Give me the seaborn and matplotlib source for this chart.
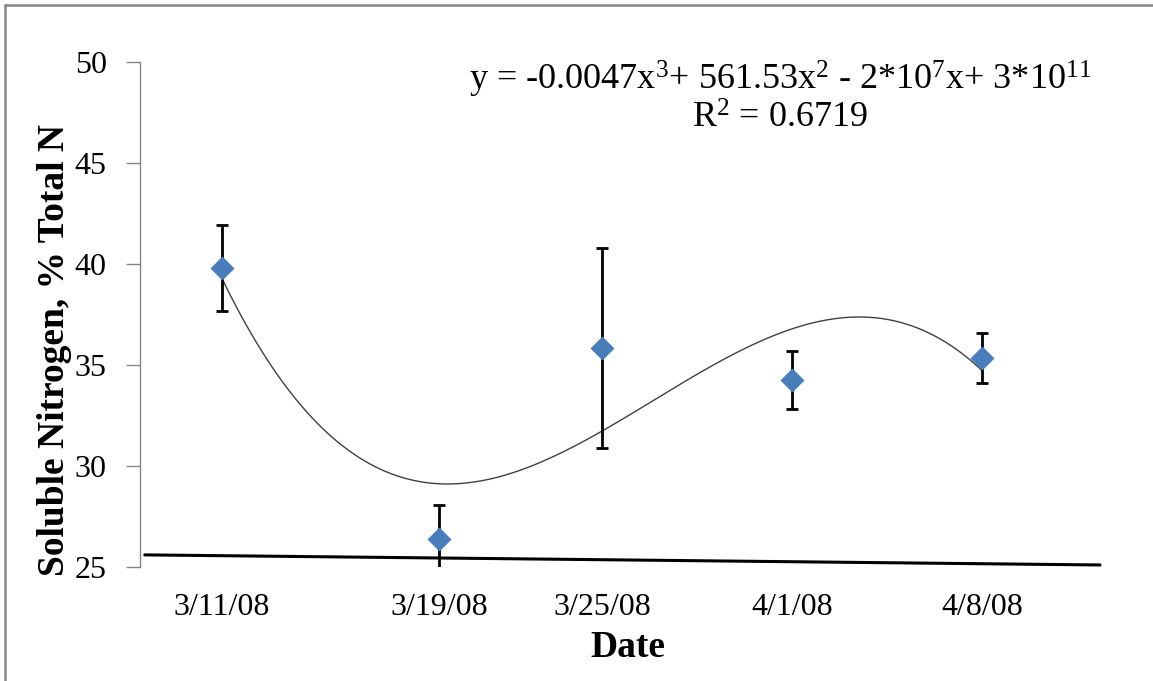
import numpy as np
import pandas as pd
import matplotlib
matplotlib.use('Agg')
import matplotlib.pyplot as plt
import matplotlib.dates as mdates
from matplotlib.lines import Line2D
import seaborn as sns

# ---------------------------------------------
# Data
# ---------------------------------------------
dates = ['2008-03-11', '2008-03-19', '2008-03-25', '2008-04-01', '2008-04-08']
date_labels = ['3/11/08', '3/19/08', '3/25/08', '4/1/08', '4/8/08']
soluble_n = [39.8, 26.4, 35.85, 34.25, 35.35]
err = [2.15, 1.65, 4.95, 1.42, 1.25]
y_ticks = [25, 30, 35, 40, 45, 50]

equation = (r'y = -0.0047x$^{3}$+ 561.53x$^{2}$ - 2*10$^{7}$x+ 3*10$^{11}$')
r2_text = r'R$^{2}$ = 0.6719'

df = pd.DataFrame({'date': pd.to_datetime(dates), 'n': soluble_n, 'err': err})
df['num'] = mdates.date2num(df['date'])

# ---------------------------------------------
# Style
# ---------------------------------------------
sns.set_style('white')
plt.rcParams['font.family'] = ['Liberation Serif', 'DejaVu Serif']
plt.rcParams['mathtext.fontset'] = 'custom'
plt.rcParams['mathtext.rm'] = 'Liberation Serif'
plt.rcParams['mathtext.it'] = 'Liberation Serif'
plt.rcParams['text.color'] = 'black'
plt.rcParams['axes.labelcolor'] = 'black'

fig = plt.figure(figsize=(11.53, 6.81), dpi=100)
ax = fig.add_axes([140 / 1153, 114 / 681, 960 / 1153, 505 / 681])

# cubic trendline (fit in days from first sample)
t = df['num'] - df['num'].iloc[0]
coef = np.polyfit(t, df['n'], 3)
tt = np.linspace(t.min(), t.max(), 300)
trend = pd.DataFrame({'x': tt + df['num'].iloc[0], 'y': np.polyval(coef, tt)})
sns.lineplot(data=trend, x='x', y='y', color='#404040', lw=1.0, ax=ax)

# error bars
ax.errorbar(df['num'], df['n'], yerr=df['err'], fmt='none', ecolor='black',
            elinewidth=2.0, capsize=4.5, capthick=2.0, zorder=3)

# points
sns.scatterplot(data=df, x='num', y='n', marker='D', s=150, color='#4A7EBB',
                edgecolor='#4A7EBB', linewidth=0, zorder=4, ax=ax)

ax.set_xlim(df['num'].iloc[0] - 3.02, df['num'].iloc[-1] + 4.35)
ax.set_ylim(25, 50)
ax.set_yticks(y_ticks)
ax.set_xticks(df['num'])
ax.set_xticklabels(date_labels)

for s in ['top', 'right', 'bottom']:
    ax.spines[s].set_visible(False)
ax.spines['left'].set_color('#868686')
ax.spines['left'].set_linewidth(1.0)

ax.tick_params(axis='y', direction='out', length=10, width=1, color='#868686',
               labelcolor='black', pad=14, labelsize=23, left=True)
ax.tick_params(axis='x', length=0, pad=19, labelsize=23, labelcolor='black')

ax.set_xlabel('Date', fontsize=27, fontweight='bold')
ax.set_ylabel('Soluble Nitrogen, % Total N', fontsize=27, fontweight='bold')
ax.xaxis.set_label_coords(0.508, -0.125)
ax.yaxis.set_label_coords(-0.071, 0.43)

# hand-drawn baseline across the bottom
ax.add_line(Line2D([0.005, 1.0], [0.024, 0.004], transform=ax.transAxes,
                   color='black', lw=2.2, clip_on=False, zorder=5))

# trendline label
ax.text(0.667, 0.966, equation, transform=ax.transAxes, ha='center',
        va='center', fontsize=26)
ax.text(0.667, 0.887, r2_text, transform=ax.transAxes, ha='center',
        va='center', fontsize=26)

# chart area border (left and top edges visible)
fig.add_artist(Line2D([5 / 1153, 5 / 1153], [0, 1 - 5 / 681],
                      transform=fig.transFigure, color='#868686', lw=1.8))
fig.add_artist(Line2D([5 / 1153, 1], [1 - 5 / 681, 1 - 5 / 681],
                      transform=fig.transFigure, color='#868686', lw=1.8))

ax.set_facecolor('white')
fig.savefig('out.png', dpi=100, facecolor='white')
